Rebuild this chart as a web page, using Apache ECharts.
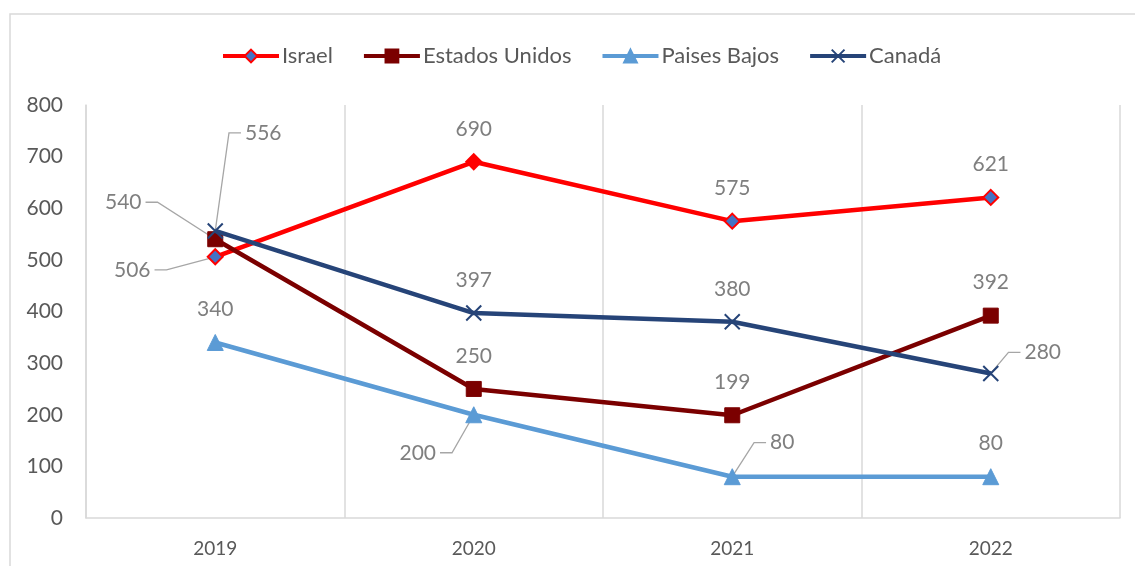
<!DOCTYPE html>
<html>
<head>
<meta charset="utf-8">
<script src="https://cdn.jsdelivr.net/npm/echarts@6/dist/echarts.min.js"></script>
<style>
html,body{margin:0;padding:0;background:#fff;}
#chart{width:1135px;height:566px;}
</style>
</head>
<body>
<div id="chart"></div>
<script>
// ---- data ----
const categories = ['2019', '2020', '2021', '2022'];
const seriesNames = ['Israel', 'Estados Unidos', 'Paises Bajos', 'Canadá'];
const israel = [506, 690, 575, 621];
const estadosUnidos = [540, 250, 199, 392];
const paisesBajos = [340, 200, 80, 80];
const canada = [556, 397, 380, 280];
const yMin = 0, yMax = 800, yInterval = 100;

// ---- label placement (pixel offsets from the point, not data) ----
const defaultLabelOffset = { dx: 0, dy: -33 };
const labelOffsets = {
  '0-0': { dx: -83, dy: 13, line: true },
  '1-0': { dx: -92, dy: -37, line: true },
  '3-0': { dx: 48, dy: -98, line: true },
  '2-1': { dx: -56, dy: 38, line: true },
  '2-2': { dx: 50, dy: -34, line: true },
  '3-3': { dx: 52, dy: -21, line: true }
};

const FONT = 'Lato';
const labelColor = '#7f7f7f';
const axisTextColor = '#595959';
const gridColor = '#d9d9d9';
const guideColor = '#a6a6a6';

const guides = {};

function labelLayout(params) {
  const key = params.seriesIndex + '-' + params.dataIndex;
  const off = labelOffsets[key] || defaultLabelOffset;
  const r = params.rect;
  const cx = r.x + r.width / 2;
  const cy = r.y + r.height / 2;
  const lx = cx + off.dx;
  const ly = cy + off.dy;
  if (off.line) {
    const hw = params.labelRect.width / 2;
    let sx, stub;
    if (off.dx < 0) { sx = lx + hw + 4; stub = sx + 12; }
    else { sx = lx - hw - 4; stub = sx - 12; }
    guides[key] = [[sx, ly], [stub, ly], [cx, cy]];
  }
  return { x: lx, y: ly, align: 'center', verticalAlign: 'middle' };
}

const baseLabel = {
  show: true,
  color: labelColor,
  fontFamily: FONT,
  fontSize: 21
};

const xPath = 'path://M0,0L10,10M10,0L0,10';

const borderGraphic = {
  type: 'rect',
  id: 'border',
  shape: { x: 10, y: 14, width: 1140, height: 570 },
  style: { fill: 'none', stroke: gridColor, lineWidth: 1.5 },
  silent: true,
  z: -10
};

const chart = echarts.init(document.getElementById('chart'), null, { renderer: 'canvas' });
chart.setOption({
  backgroundColor: '#ffffff',
  animation: false,
  graphic: [borderGraphic],
  legend: {
    top: 40,
    left: 216,
    itemWidth: 56,
    itemHeight: 16,
    itemGap: 29,
    lineStyle: { width: 4 },
    textStyle: { color: axisTextColor, fontFamily: FONT, fontSize: 22, padding: [0, 0, 0, -2] },
    data: seriesNames
  },
  grid: { left: 86, right: 15, top: 105, bottom: 48, containLabel: false },
  xAxis: {
    type: 'category',
    data: categories,
    boundaryGap: true,
    axisLine: { show: true, lineStyle: { color: gridColor, width: 1.5 } },
    axisTick: { show: false },
    splitLine: { show: true, lineStyle: { color: gridColor, width: 1.5 } },
    axisLabel: { color: axisTextColor, fontFamily: FONT, fontSize: 19, margin: 21 }
  },
  yAxis: {
    type: 'value',
    min: yMin, max: yMax, interval: yInterval,
    axisLine: { show: true, lineStyle: { color: gridColor, width: 1.5 } },
    axisTick: { show: false },
    splitLine: { show: false },
    axisLabel: { color: axisTextColor, fontFamily: FONT, fontSize: 21, margin: 23 }
  },
  series: [
    {
      name: seriesNames[0], type: 'line',
      data: israel.map((v, i) => i === 1 ? { value: v, itemStyle: { color: '#ff0000' } } : v),
      symbol: 'diamond', symbolSize: 15,
      lineStyle: { color: '#ff0000', width: 4.5 },
      itemStyle: { color: '#4472c4', borderColor: '#ff0000', borderWidth: 2 },
      label: baseLabel, labelLayout: labelLayout, z: 2
    },
    {
      name: seriesNames[1], type: 'line',
      data: estadosUnidos,
      symbol: 'rect', symbolSize: 15,
      lineStyle: { color: '#7b0000', width: 4.5 },
      itemStyle: { color: '#7b0000', borderColor: '#7b0000', borderWidth: 1 },
      label: baseLabel, labelLayout: labelLayout, z: 3
    },
    {
      name: seriesNames[2], type: 'line',
      data: paisesBajos,
      symbol: 'triangle', symbolSize: 16,
      lineStyle: { color: '#5b9bd5', width: 4.5 },
      itemStyle: { color: '#5b9bd5', borderColor: '#5b9bd5', borderWidth: 1 },
      label: baseLabel, labelLayout: labelLayout, z: 4
    },
    {
      name: seriesNames[3], type: 'line',
      data: canada,
      symbol: xPath, symbolSize: 15,
      lineStyle: { color: '#264478', width: 4.5 },
      itemStyle: { color: '#264478', borderColor: '#264478', borderWidth: 2 },
      label: baseLabel, labelLayout: labelLayout, z: 5
    }
  ]
});

// leader lines from the layout computed above
const guideGraphics = Object.keys(guides).map(k => ({
  type: 'polyline',
  id: 'guide-' + k,
  shape: { points: guides[k] },
  style: { stroke: guideColor, lineWidth: 1.3, fill: null },
  silent: true,
  z: 1
}));
chart.setOption({ graphic: [borderGraphic].concat(guideGraphics) });
</script>
</body>
</html>
